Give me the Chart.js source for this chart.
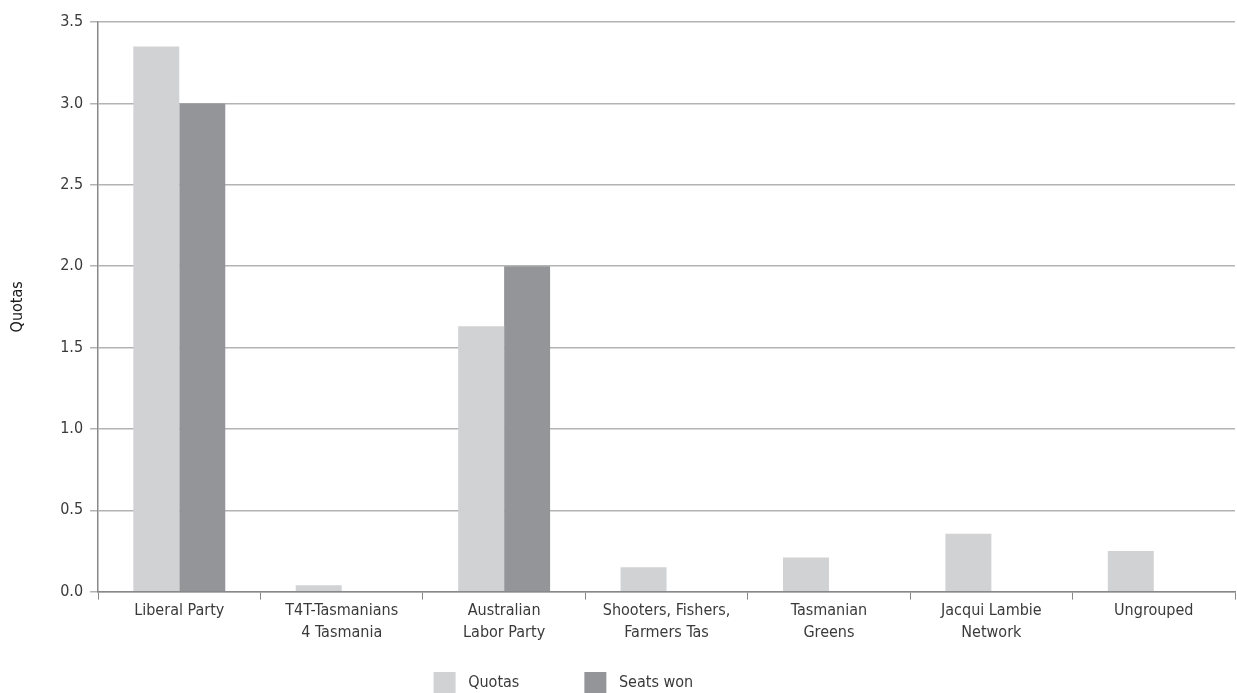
<!DOCTYPE html>
<html>
<head>
<meta charset="utf-8">
<script src="https://cdn.jsdelivr.net/npm/chart.js@4"></script>
<style>
  html, body { margin: 0; padding: 0; background: #fff; }
  #wrap { width: 1237px; height: 693px; }
</style>
</head>
<body>
<div id="wrap"><canvas id="chart"></canvas></div>
<script>
// Partier (kategorier) med radbrytningar som i originalet
const parties = [
    ['Liberal Party'],
    ['T4T-Tasmanians', '4 Tasmania'],
    ['Australian', 'Labor Party'],
    ['Shooters, Fishers,', 'Farmers Tas'],
    ['Tasmanian', 'Greens'],
    ['Jacqui Lambie', 'Network'],
    ['Ungrouped']
];
const quotas = [3.35, 0.04, 1.63, 0.15, 0.21, 0.355, 0.25];
const seatsWon = [3, 0, 2, 0, 0, 0, 0];
const seriesNames = ['Quotas', 'Seats won'];

const font = "'Liberation Sans Narrow', 'DejaVu Sans Condensed', sans-serif";
const textColor = '#3a3a3a';
const legendFontSize = 16;
// Bredd (px) som varje legendpost ska ta upp, så rutorna hamnar som i originalet
const legendItemWidths = [152, 227];

// Fyll ut en text med mellanslag tills den når önskad bredd
function padText(ctx, text, width) {
    ctx.save();
    ctx.font = legendFontSize + 'px ' + font;
    let t = ' ' + text;
    while (ctx.measureText(t + ' ').width <= width) t += ' ';
    ctx.restore();
    return t;
}

const ctx = document.getElementById('chart').getContext('2d');
new Chart(ctx, {
    type: 'bar',
    data: {
        labels: parties,
        datasets: [
            {
                label: seriesNames[0],
                data: quotas,
                backgroundColor: '#d1d2d4',
                borderWidth: 0,
                categoryPercentage: 0.566,
                barPercentage: 1.0
            },
            {
                label: seriesNames[1],
                data: seatsWon,
                backgroundColor: '#939598',
                borderWidth: 0,
                categoryPercentage: 0.566,
                barPercentage: 1.0
            }
        ]
    },
    options: {
        responsive: true,
        maintainAspectRatio: false,
        animation: false,
        layout: { padding: { top: 22, right: 2, left: 6, bottom: -10 } },
        plugins: {
            tooltip: { enabled: false },
            legend: {
                position: 'bottom',
                labels: {
                    font: { family: font, size: legendFontSize },
                    color: textColor,
                    boxWidth: 22,
                    boxHeight: 21,
                    padding: 1,
                    generateLabels: chart => chart.data.datasets.map((ds, i) => ({
                        text: padText(chart.ctx, ds.label, legendItemWidths[i] - 22 - legendFontSize / 2 - 1),
                        fillStyle: ds.backgroundColor,
                        strokeStyle: ds.backgroundColor,
                        lineWidth: 0,
                        hidden: false,
                        datasetIndex: i,
                        fontColor: textColor
                    }))
                }
            }
        },
        scales: {
            x: {
                grid: {
                    offset: true,
                    drawOnChartArea: false,
                    color: '#888888',
                    tickLength: 8
                },
                border: { color: '#888888', width: 1.5 },
                ticks: {
                    font: { family: font, size: 16, lineHeight: 1.38 },
                    color: textColor,
                    maxRotation: 0,
                    padding: 0
                },
                // osynlig titel som skapar avståndet ner till legenden
                title: {
                    display: true,
                    text: ' ',
                    font: { size: 1 },
                    padding: { top: 26, bottom: 0 }
                }
            },
            y: {
                min: 0,
                max: 3.5,
                grid: {
                    color: '#b3b3b3',
                    lineWidth: 1.5,
                    tickLength: 8
                },
                border: { color: '#888888', width: 1.5 },
                ticks: {
                    stepSize: 0.5,
                    font: { family: font, size: 16 },
                    color: textColor,
                    padding: 7,
                    callback: v => v.toFixed(1)
                },
                title: {
                    display: true,
                    text: 'Quotas',
                    font: { family: font, size: 16 },
                    color: '#1a1a1a',
                    padding: { top: 2, bottom: 26 }
                }
            }
        }
    }
});
</script>
</body>
</html>
